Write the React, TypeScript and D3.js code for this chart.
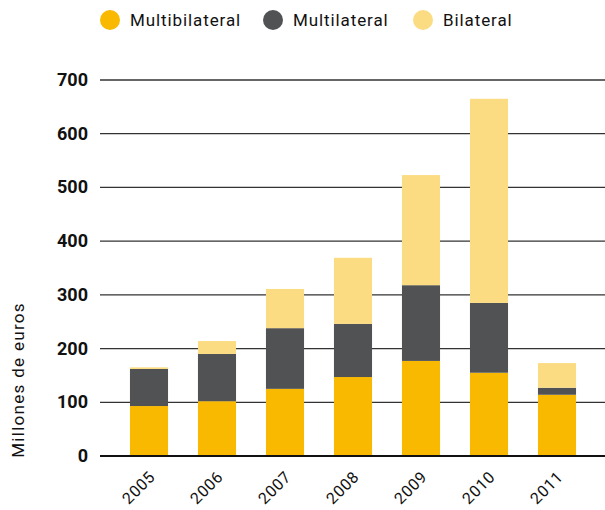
import React from 'react'
import { scaleBand, scaleLinear, stack } from 'd3'

const years = ['2005', '2006', '2007', '2008', '2009', '2010', '2011']
const multibilateral = [93, 102, 125, 147, 177, 155, 114]
const multilateral = [69, 88, 113, 99, 141, 130, 13]
const bilateral = [3, 24, 73, 123, 205, 380, 46]
const yTicks = [0, 100, 200, 300, 400, 500, 600, 700]

const seriesKeys = ['Multibilateral', 'Multilateral', 'Bilateral']
const colors = ['#F9B900', '#515254', '#FCDC82']

export default function App() {
  const width = 605
  const height = 510
  const font = 'Roboto, "DejaVu Sans", sans-serif'

  const rows = years.map((y, i) => ({
    year: y,
    Multibilateral: multibilateral[i],
    Multilateral: multilateral[i],
    Bilateral: bilateral[i],
  }))
  const layers = stack<any>().keys(seriesKeys)(rows)

  const x = scaleBand()
    .domain(years)
    .range([115, 591])
    .paddingInner(0.44)
    .paddingOuter(0.22)
  const y = scaleLinear().domain([0, 700]).range([456, 80])

  const legendX = [110, 273, 423]

  return (
    <svg width={width} height={height} style={{ position: 'absolute', left: 0, top: 0 }}>
      {/* legend */}
      {seriesKeys.map((k, i) => (
        <g key={k}>
          <circle cx={legendX[i]} cy={20} r={10} fill={colors[i]} />
          <text x={legendX[i] + 20} y={26} fontFamily={font} fontSize={17} letterSpacing={0.9} fill="#111">{k}</text>
        </g>
      ))}

      {/* grid + y labels */}
      {yTicks.map(t => (
        <g key={t}>
          <line x1={100} x2={605} y1={y(t)} y2={y(t)} stroke={t === 0 ? '#111' : '#333'} strokeWidth={t === 0 ? 2 : 1.3} />
          <text x={88} y={y(t) + 6} textAnchor="end" fontFamily={font} fontWeight="bold" fontSize={18} fill="#111">{t}</text>
        </g>
      ))}

      {/* bars */}
      {layers.map((layer, li) => (
        <g key={layer.key} fill={colors[li]}>
          {layer.map((d: any) => (
            <rect
              key={d.data.year}
              x={x(d.data.year)}
              width={x.bandwidth()}
              y={y(d[1])}
              height={y(d[0]) - y(d[1])}
            />
          ))}
        </g>
      ))}
      <line x1={100} x2={605} y1={y(0)} y2={y(0)} stroke="#111" strokeWidth={2} />

      {/* x labels */}
      {years.map(yr => {
        const cx = (x(yr) as number) + x.bandwidth() / 2 + 7
        return (
          <text key={yr} transform={`translate(${cx},${478}) rotate(-45)`} textAnchor="end" fontFamily={font} fontSize={16} letterSpacing={0.6} fill="#111">{yr}</text>
        )
      })}

      {/* y title */}
      <text transform={`translate(24,380) rotate(-90)`} textAnchor="middle" fontFamily={font} fontSize={17} letterSpacing={1.3} fill="#111">Millones de euros</text>
    </svg>
  )
}
